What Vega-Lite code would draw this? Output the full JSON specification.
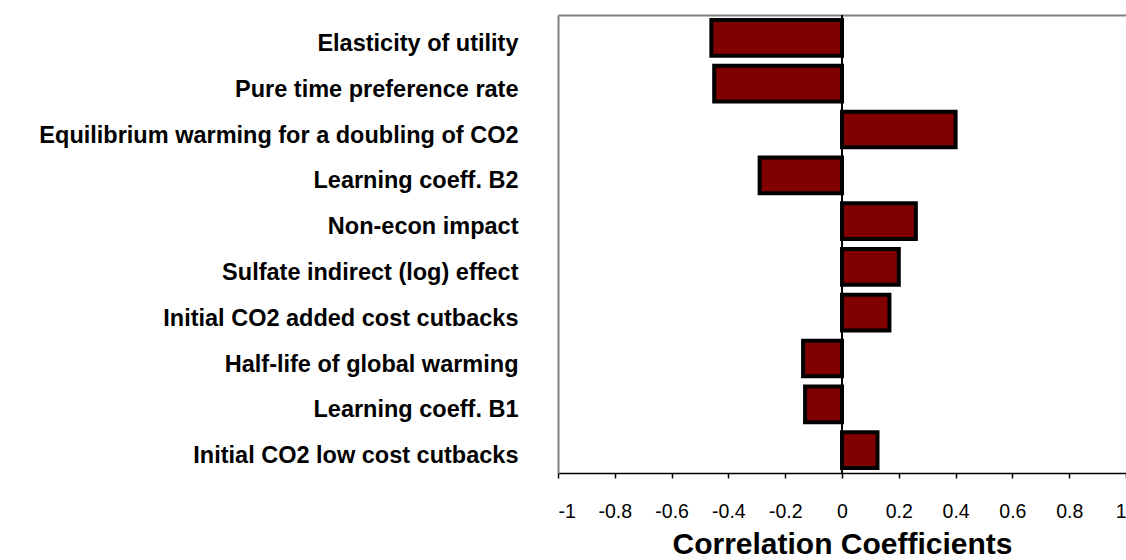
{
  "$schema": "https://vega.github.io/schema/vega-lite/v6.json",
  "autosize": {"type": "none"},
  "padding": {"left": 558, "top": 15, "right": 0, "bottom": 87},
  "width": 568,
  "height": 458,
  "background": "white",
  "config": {
    "view": {"stroke": null},
    "font": "Liberation Sans"
  },
  "data": {
    "values": [
      {"parameter": "Elasticity of utility", "corr": -0.46},
      {"parameter": "Pure time preference rate", "corr": -0.45},
      {"parameter": "Equilibrium warming for a doubling of CO2", "corr": 0.40},
      {"parameter": "Learning coeff. B2", "corr": -0.29},
      {"parameter": "Non-econ impact", "corr": 0.26},
      {"parameter": "Sulfate indirect (log) effect", "corr": 0.20},
      {"parameter": "Initial CO2 added cost cutbacks", "corr": 0.167},
      {"parameter": "Half-life of global warming", "corr": -0.137},
      {"parameter": "Learning coeff. B1", "corr": -0.13},
      {"parameter": "Initial CO2 low cost cutbacks", "corr": 0.125}
    ]
  },
  "layer": [
    {
      "mark": {"type": "bar", "color": "#800000", "stroke": "black", "strokeWidth": 4},
      "encoding": {
        "y": {
          "field": "parameter",
          "type": "nominal",
          "sort": null,
          "scale": {"paddingInner": 0.22, "paddingOuter": 0.11},
          "axis": {
            "title": null,
            "domain": true,
            "domainColor": "#808080",
            "domainWidth": 2,
            "ticks": false,
            "labelFont": "Liberation Sans",
            "labelFontWeight": "bold",
            "labelFontSize": 23.5,
            "labelColor": "black",
            "labelPadding": 40,
            "labelOffset": 6,
            "labelLimit": 600
          }
        },
        "x": {
          "field": "corr",
          "type": "quantitative",
          "scale": {"domain": [-1, 1], "nice": false},
          "axis": {
            "orient": "bottom",
            "title": "Correlation Coefficients",
            "titleFont": "Liberation Sans",
            "titleFontSize": 30,
            "titleFontWeight": "bold",
            "titleColor": "black",
            "titlePadding": 9,
            "values": [-1, -0.8, -0.6, -0.4, -0.2, 0, 0.2, 0.4, 0.6, 0.8, 1],
            "labelExpr": "'' + datum.value",
            "grid": false,
            "domainColor": "black",
            "domainWidth": 1.5,
            "tickColor": "black",
            "tickSize": 5,
            "tickWidth": 1.5,
            "labelFont": "Liberation Sans",
            "labelFontSize": 19.5,
            "labelColor": "black",
            "labelPadding": 24,
            "labelOverlap": false
          }
        }
      }
    },
    {
      "mark": {"type": "rule", "color": "black", "strokeWidth": 1},
      "encoding": {
        "x": {
          "datum": 0,
          "axis": {
            "orient": "top",
            "title": null,
            "labels": false,
            "ticks": false,
            "grid": false,
            "domainColor": "#808080",
            "domainWidth": 2
          }
        }
      }
    }
  ]
}
